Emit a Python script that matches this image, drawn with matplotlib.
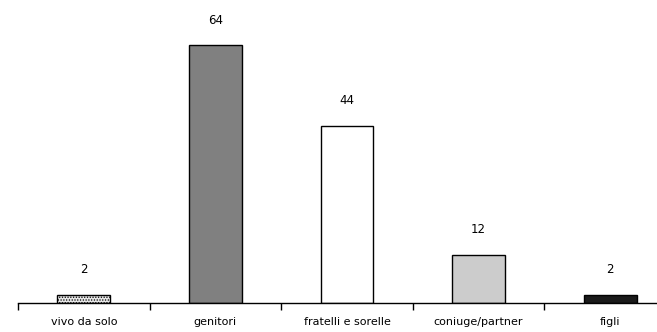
import matplotlib
matplotlib.use("Agg")
import matplotlib.pyplot as plt
import numpy as np

categories = ["vivo da solo", "genitori", "fratelli e sorelle", "coniuge/partner", "figli"]
values = [2, 64, 44, 12, 2]
colors = ["#e6e6e6", "#808080", "#ffffff", "#cccccc", "#1a1a1a"]
hatches = ["......", None, None, None, None]

plt.rcParams["hatch.color"] = "#aaaaaa"
plt.rcParams["hatch.linewidth"] = 0.6

fig = plt.figure(figsize=(6.57, 3.32), dpi=100)
ax = fig.add_axes([18 / 657, 29 / 332, 658 / 657, 303 / 332])

x = np.arange(len(categories))
bars = ax.bar(x, values, width=0.4, color=colors, edgecolor="black", linewidth=1)
for b, h in zip(bars, hatches):
    if h:
        b.set_hatch(h)

for xi, v in zip(x, values):
    ax.text(xi, v + 6.2, str(v), ha="center", va="center", fontsize=8.5)

ax.set_xlim(-0.5, len(categories) - 0.5)
ax.set_ylim(0, 303 / 4.03)

for s in ["top", "right", "left"]:
    ax.spines[s].set_visible(False)
ax.spines["bottom"].set_linewidth(1)
ax.set_yticks([])

ax.set_xticks(x)
ax.set_xticklabels(categories, fontsize=8)
ax.tick_params(axis="x", which="major", length=0, pad=10)
ax.set_xticks(np.arange(-0.5, len(categories), 1.0), minor=True)
ax.tick_params(axis="x", which="minor", length=5, width=1, direction="out")

fig.savefig("out.png", dpi=100)
